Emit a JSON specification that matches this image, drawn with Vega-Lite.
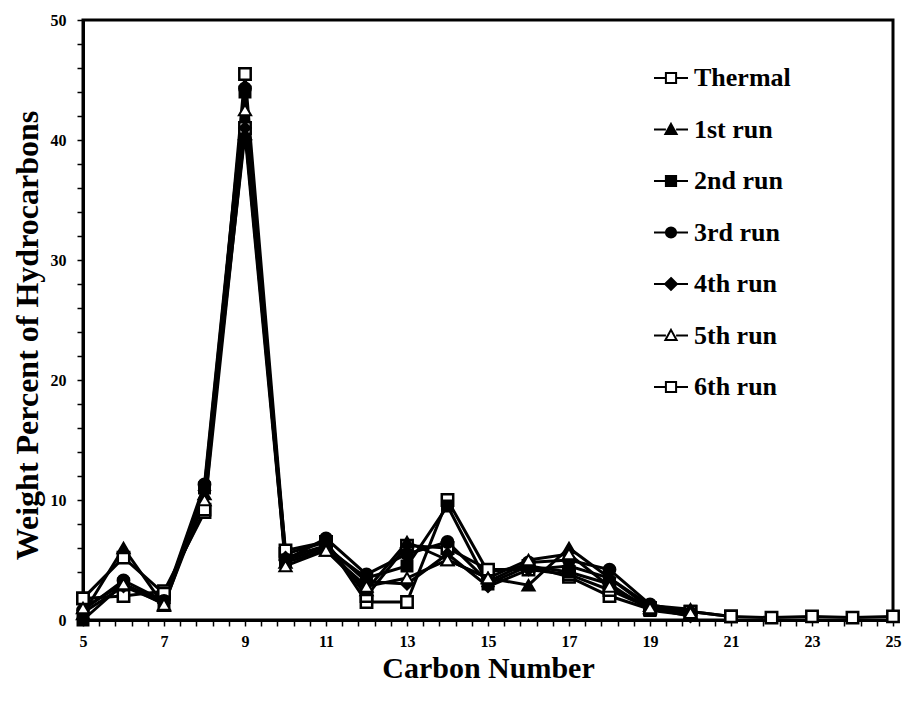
{
  "$schema": "https://vega.github.io/schema/vega-lite/v6.json",
  "width": 810,
  "height": 600,
  "autosize": "none",
  "padding": {"left": 83, "top": 20, "right": 13, "bottom": 83},
  "background": "white",
  "config": {
    "font": "Liberation Serif",
    "view": {"stroke": "black", "strokeWidth": 3},
    "axis": {"grid": false, "domainColor": "black", "domainWidth": 3, "labelColor": "black", "titleColor": "black", "labelFont": "Liberation Serif", "titleFont": "Liberation Serif", "labelFontWeight": "bold", "titleFontWeight": "bold"}
  },
  "data": {"values": [
    {"c":5,"series":"Thermal","w":1.8},{"c":6,"series":"Thermal","w":2.0},{"c":7,"series":"Thermal","w":2.4},{"c":8,"series":"Thermal","w":9.0},{"c":9,"series":"Thermal","w":45.5},{"c":10,"series":"Thermal","w":5.5},{"c":11,"series":"Thermal","w":6.5},{"c":12,"series":"Thermal","w":1.5},{"c":13,"series":"Thermal","w":1.5},{"c":14,"series":"Thermal","w":10.0},{"c":15,"series":"Thermal","w":4.0},{"c":16,"series":"Thermal","w":4.5},{"c":17,"series":"Thermal","w":3.6},{"c":18,"series":"Thermal","w":2.0},{"c":19,"series":"Thermal","w":0.9},{"c":20,"series":"Thermal","w":0.7},{"c":21,"series":"Thermal","w":0.3},{"c":22,"series":"Thermal","w":0.2},{"c":23,"series":"Thermal","w":0.3},{"c":24,"series":"Thermal","w":0.2},{"c":25,"series":"Thermal","w":0.3},
    {"c":5,"series":"1st run","w":0.5},{"c":6,"series":"1st run","w":6.0},{"c":7,"series":"1st run","w":1.2},{"c":8,"series":"1st run","w":10.5},{"c":9,"series":"1st run","w":40.5},{"c":10,"series":"1st run","w":4.8},{"c":11,"series":"1st run","w":5.8},{"c":12,"series":"1st run","w":2.5},{"c":13,"series":"1st run","w":6.5},{"c":14,"series":"1st run","w":5.0},{"c":15,"series":"1st run","w":3.5},{"c":16,"series":"1st run","w":2.9},{"c":17,"series":"1st run","w":6.0},{"c":18,"series":"1st run","w":3.5},{"c":19,"series":"1st run","w":1.2},{"c":20,"series":"1st run","w":0.9},
    {"c":5,"series":"2nd run","w":0.0},{"c":6,"series":"2nd run","w":3.0},{"c":7,"series":"2nd run","w":1.5},{"c":8,"series":"2nd run","w":11.0},{"c":9,"series":"2nd run","w":44.0},{"c":10,"series":"2nd run","w":5.0},{"c":11,"series":"2nd run","w":6.0},{"c":12,"series":"2nd run","w":3.5},{"c":13,"series":"2nd run","w":4.5},{"c":14,"series":"2nd run","w":9.5},{"c":15,"series":"2nd run","w":3.0},{"c":16,"series":"2nd run","w":4.5},{"c":17,"series":"2nd run","w":4.0},{"c":18,"series":"2nd run","w":3.0},{"c":19,"series":"2nd run","w":0.8},{"c":20,"series":"2nd run","w":0.4},
    {"c":5,"series":"3rd run","w":0.8},{"c":6,"series":"3rd run","w":3.3},{"c":7,"series":"3rd run","w":1.6},{"c":8,"series":"3rd run","w":11.3},{"c":9,"series":"3rd run","w":44.3},{"c":10,"series":"3rd run","w":5.0},{"c":11,"series":"3rd run","w":6.8},{"c":12,"series":"3rd run","w":3.8},{"c":13,"series":"3rd run","w":5.5},{"c":14,"series":"3rd run","w":6.5},{"c":15,"series":"3rd run","w":3.2},{"c":16,"series":"3rd run","w":4.8},{"c":17,"series":"3rd run","w":5.0},{"c":18,"series":"3rd run","w":4.2},{"c":19,"series":"3rd run","w":1.3},{"c":20,"series":"3rd run","w":0.6},
    {"c":5,"series":"4th run","w":0.6},{"c":6,"series":"4th run","w":2.8},{"c":7,"series":"4th run","w":1.4},{"c":8,"series":"4th run","w":10.8},{"c":9,"series":"4th run","w":41.0},{"c":10,"series":"4th run","w":5.2},{"c":11,"series":"4th run","w":6.2},{"c":12,"series":"4th run","w":3.2},{"c":13,"series":"4th run","w":3.0},{"c":14,"series":"4th run","w":5.5},{"c":15,"series":"4th run","w":2.8},{"c":16,"series":"4th run","w":4.2},{"c":17,"series":"4th run","w":4.5},{"c":18,"series":"4th run","w":3.5},{"c":19,"series":"4th run","w":1.0},{"c":20,"series":"4th run","w":0.3},
    {"c":5,"series":"5th run","w":1.0},{"c":6,"series":"5th run","w":3.0},{"c":7,"series":"5th run","w":1.3},{"c":8,"series":"5th run","w":10.0},{"c":9,"series":"5th run","w":42.5},{"c":10,"series":"5th run","w":4.5},{"c":11,"series":"5th run","w":5.8},{"c":12,"series":"5th run","w":2.8},{"c":13,"series":"5th run","w":3.5},{"c":14,"series":"5th run","w":5.0},{"c":15,"series":"5th run","w":3.5},{"c":16,"series":"5th run","w":5.0},{"c":17,"series":"5th run","w":5.5},{"c":18,"series":"5th run","w":2.8},{"c":19,"series":"5th run","w":1.0},{"c":20,"series":"5th run","w":0.6},
    {"c":5,"series":"6th run","w":1.8},{"c":6,"series":"6th run","w":5.2},{"c":7,"series":"6th run","w":2.2},{"c":8,"series":"6th run","w":9.2},{"c":9,"series":"6th run","w":41.0},{"c":10,"series":"6th run","w":5.8},{"c":11,"series":"6th run","w":6.5},{"c":12,"series":"6th run","w":2.0},{"c":13,"series":"6th run","w":6.2},{"c":14,"series":"6th run","w":6.0},{"c":15,"series":"6th run","w":4.2},{"c":16,"series":"6th run","w":4.2},{"c":17,"series":"6th run","w":3.8},{"c":18,"series":"6th run","w":2.5},{"c":19,"series":"6th run","w":1.0},{"c":20,"series":"6th run","w":0.7},{"c":21,"series":"6th run","w":0.3}
  ]},
  "encoding": {
    "x": {"field": "c", "type": "quantitative", "scale": {"domain": [5, 25], "nice": false, "zero": false},
      "axis": {"title": "Carbon Number", "titleFontSize": 30, "titlePadding": 4, "labelFontSize": 16, "labelPadding": 7, "ticks": true, "tickSize": 6, "tickColor": "black", "tickWidth": 1.5,
        "values": [5,5.4,5.8,6.2,6.6,7,7.4,7.8,8.2,8.6,9,9.4,9.8,10.2,10.6,11,11.4,11.8,12.2,12.6,13,13.4,13.8,14.2,14.6,15,15.4,15.8,16.2,16.6,17,17.4,17.8,18.2,18.6,19,19.4,19.8,20.2,20.6,21,21.4,21.8,22.2,22.6,23,23.4,23.8,24.2,24.6,25],
        "labelExpr": "(datum.value % 2 === 1) ? format(datum.value, 'd') : ''", "labelOverlap": false, "labelFlush": false}},
    "y": {"field": "w", "type": "quantitative", "scale": {"domain": [0, 50], "nice": false},
      "axis": {"title": "Weight Percent of Hydrocarbons", "titleFontSize": 32, "titlePadding": 6, "titleY": 315, "labelFontSize": 16, "labelPadding": 11, "ticks": true, "tickSize": 6, "tickColor": "black", "tickWidth": 1.5,
        "values": [0,2,4,6,8,10,12,14,16,18,20,22,24,26,28,30,32,34,36,38,40,42,44,46,48,50],
        "labelExpr": "(datum.value % 10 === 0) ? datum.label : ''", "labelOverlap": false, "labelFlush": false}}
  },
  "layer": [
    {
      "mark": {"type": "line", "color": "black", "strokeWidth": 3},
      "encoding": {"detail": {"field": "series"}}
    },
    {
      "transform": [{"filter": {"field": "series", "oneOf": ["Thermal", "6th run"]}}],
      "mark": {"type": "point", "shape": "square", "filled": true, "fill": "white", "stroke": "black", "strokeWidth": 2.5, "size": 130, "opacity": 1}
    },
    {
      "transform": [{"filter": {"field": "series", "equal": "1st run"}}],
      "mark": {"type": "point", "shape": "triangle-up", "filled": true, "fill": "black", "stroke": "black", "strokeWidth": 2, "size": 150, "opacity": 1}
    },
    {
      "transform": [{"filter": {"field": "series", "equal": "2nd run"}}],
      "mark": {"type": "point", "shape": "square", "filled": true, "fill": "black", "stroke": "black", "strokeWidth": 2, "size": 120, "opacity": 1}
    },
    {
      "transform": [{"filter": {"field": "series", "equal": "3rd run"}}],
      "mark": {"type": "point", "shape": "circle", "filled": true, "fill": "black", "stroke": "black", "strokeWidth": 2, "size": 140, "opacity": 1}
    },
    {
      "transform": [{"filter": {"field": "series", "equal": "4th run"}}],
      "mark": {"type": "point", "shape": "diamond", "filled": true, "fill": "black", "stroke": "black", "strokeWidth": 2, "size": 130, "opacity": 1}
    },
    {
      "transform": [{"filter": {"field": "series", "equal": "5th run"}}],
      "mark": {"type": "point", "shape": "triangle-up", "filled": true, "fill": "white", "stroke": "black", "strokeWidth": 2, "size": 150, "opacity": 1}
    },
    {
      "transform": [{"filter": "datum.c > 100"}],
      "mark": {"type": "point", "filled": true, "stroke": "black", "strokeWidth": 2, "opacity": 1},
      "encoding": {
        "shape": {"field": "series", "type": "nominal",
          "scale": {"domain": ["Thermal","1st run","2nd run","3rd run","4th run","5th run","6th run"],
            "range": ["M-1,0H-0.3M0.3,0H1M-0.3,-0.3H0.3V0.3H-0.3Z","M-1,0H-0.3M0.3,0H1M0,-0.33L0.33,0.27H-0.33Z","M-1,0H-0.3M0.3,0H1M-0.3,-0.3H0.3V0.3H-0.3Z","M-1,0H-0.3M0.3,0H1M-0.3,0A0.3,0.3,0,1,1,0.3,0A0.3,0.3,0,1,1,-0.3,0Z","M-1,0H-0.35M0.35,0H1M0,-0.35L0.35,0L0,0.35L-0.35,0Z","M-1,0H-0.3M0.3,0H1M0,-0.33L0.33,0.27H-0.33Z","M-1,0H-0.3M0.3,0H1M-0.3,-0.3H0.3V0.3H-0.3Z"]},
          "legend": {"title": null, "orient": "none", "legendX": 570, "legendY": 40, "symbolSize": 1156, "symbolStrokeColor": "black", "symbolStrokeWidth": 2, "symbolOpacity": 1, "labelFont": "Liberation Serif", "labelFontWeight": "bold", "labelFontSize": 26, "labelColor": "black", "labelOffset": 5, "rowPadding": 20.5, "padding": 0,
            "encode": {"symbols": {"update": {"stroke": {"value": "black"}, "strokeWidth": {"value": 2}, "opacity": {"value": 1}}}}}},
        "fill": {"field": "series", "type": "nominal",
          "scale": {"domain": ["Thermal","1st run","2nd run","3rd run","4th run","5th run","6th run"], "range": ["white","black","black","black","black","white","white"]},
          "legend": {"title": null, "orient": "none", "legendX": 570, "legendY": 40, "symbolSize": 1156, "symbolStrokeColor": "black", "symbolStrokeWidth": 2, "symbolOpacity": 1, "labelFont": "Liberation Serif", "labelFontWeight": "bold", "labelFontSize": 26, "labelColor": "black", "labelOffset": 5, "rowPadding": 20.5, "padding": 0,
            "encode": {"symbols": {"update": {"stroke": {"value": "black"}, "strokeWidth": {"value": 2}, "opacity": {"value": 1}}}}}}
      }
    }
  ]
}
